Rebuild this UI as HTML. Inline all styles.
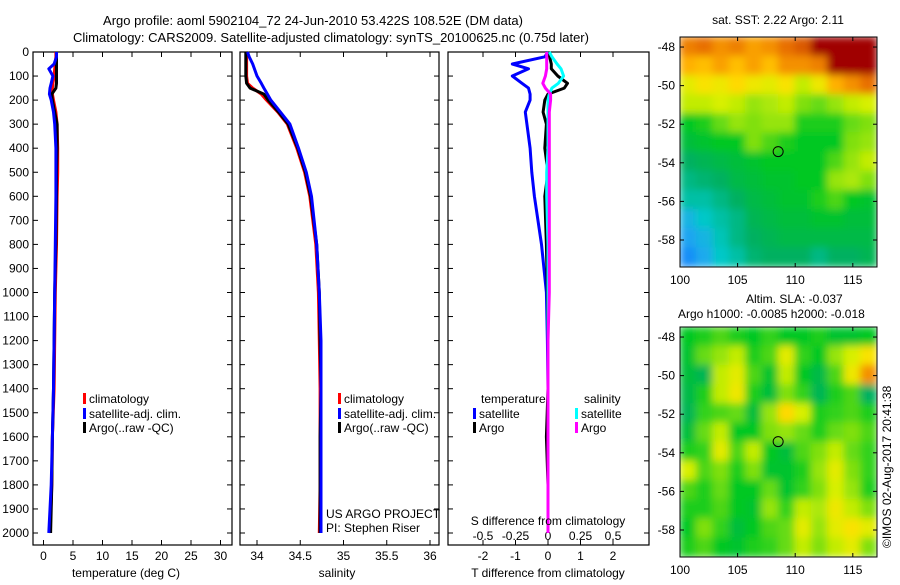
<!DOCTYPE html>
<html><head><meta charset="utf-8"><style>
body{margin:0;background:#fff;width:900px;height:580px;overflow:hidden;font-family:"Liberation Sans",sans-serif}
svg text{font-family:"Liberation Sans",sans-serif;fill:#000}
</style></head><body>
<svg id="fig" width="900" height="580" viewBox="0 0 900 580">
<defs>
<filter id="blur" x="0" y="0" width="1" height="1"><feGaussianBlur stdDeviation="4"/></filter>
<clipPath id="c1"><rect x="680" y="37" width="197" height="230"/></clipPath>
<clipPath id="c2"><rect x="680" y="327" width="197" height="230"/></clipPath>
</defs>
<text x="313" y="25" font-size="13" text-anchor="middle">Argo profile: aoml 5902104_72 24-Jun-2010 53.422S 108.52E (DM data)</text>
<text x="331" y="42" font-size="13" text-anchor="middle">Climatology: CARS2009. Satellite-adjusted climatology: synTS_20100625.nc (0.75d later)</text>
<g id="g"></g>
</svg>
<script>
const depths=[0,20,50,70,100,130,150,175,200,250,300,400,500,600,800,1000,1200,1400,1600,1800,2000];
const tempClim=[2.1,2.1,2.0,1.9,1.8,1.6,1.5,1.5,1.7,2.1,2.3,2.4,2.4,2.3,2.2,2.0,1.9,1.8,1.5,1.4,1.1];
const tempSat=[2.2,2.2,1.8,0.9,1.6,1.3,1.1,1.0,1.3,1.7,1.9,2.1,2.1,2.1,2.0,1.9,1.8,1.7,1.5,1.3,0.9];
const tempArgo=[2.2,2.2,2.2,2.2,2.2,2.2,2.1,1.4,1.5,1.9,2.3,2.3,2.2,2.2,2.1,1.9,1.8,1.7,1.5,1.4,1.2];
const salClim=[33.88,33.88,33.88,33.88,33.88,33.89,33.95,34.05,34.11,34.24,34.35,34.46,34.55,34.61,34.68,34.71,34.72,34.73,34.73,34.73,34.72];
const salSat=[33.89,33.91,33.95,33.97,34.0,34.05,34.08,34.12,34.16,34.27,34.38,34.48,34.57,34.63,34.69,34.72,34.74,34.74,34.74,34.74,34.74];
const salArgo=[33.87,33.87,33.87,33.87,33.87,33.88,33.92,34.08,34.13,34.25,34.36,34.47,34.56,34.62,34.69,34.72,34.73,34.74,34.73,34.73,34.73];
const diffTSat=[0.0,-0.1,-1.1,-0.6,-1.1,-0.8,-0.6,-0.55,-0.55,-0.7,-0.65,-0.55,-0.5,-0.42,-0.2,-0.05,-0.02,0,0,0,0];
const diffTArgo=[0.0,0.05,0.1,0.1,0.3,0.6,0.5,0.0,-0.1,-0.15,-0.05,-0.1,0.0,-0.1,-0.05,-0.02,0,0,-0.05,0,0];
const diffSSat=[0.01,0.03,0.07,0.10,0.12,0.08,0.03,0.01,0.0,0.0,0.0,0.0,-0.01,-0.01,0,0,0,0,0,0,0];
const diffSArgo=[-0.01,-0.01,-0.01,-0.01,-0.02,-0.04,-0.02,0.02,0.02,0.01,0.01,0.01,0.01,0.01,0.01,0.01,0,0,0,0,0];
const depthTicks=[0,100,200,300,400,500,600,700,800,900,1000,1100,1200,1300,1400,1500,1600,1700,1800,1900,2000];
const tempTicks=[0,5,10,15,20,25,30];
const salTicks=[34,34.5,35,35.5,36];
const salTickLabels=["34","34.5","35","35.5","36"];
const dTTicks=[-2,-1,0,1,2];
const dSTicks=[-0.5,-0.25,0,0.25,0.5];
const dSTickLabels=["-0.5","-0.25","0","0.25","0.5"];
const lonTicks=[100,105,110,115];
const latTicks=[-48,-50,-52,-54,-56,-58];
const sstGrid=[
[.88,.90,.86,.88,.84,.86,.90,.92,1,1,1,1],
[.82,.80,.84,.80,.84,.80,.86,.86,.88,1,1,1],
[.70,.74,.72,.76,.72,.70,.74,.66,.72,.82,.86,.90],
[.66,.66,.68,.66,.62,.64,.66,.60,.58,.62,.66,.68],
[.50,.52,.58,.62,.60,.62,.62,.52,.52,.52,.58,.60],
[.46,.48,.50,.50,.60,.56,.52,.50,.50,.50,.60,.62],
[.40,.42,.44,.46,.48,.50,.50,.50,.50,.56,.62,.66],
[.36,.38,.40,.44,.46,.48,.48,.50,.50,.62,.64,.60],
[.32,.32,.36,.40,.44,.46,.48,.48,.52,.56,.50,.48],
[.20,.28,.32,.36,.42,.44,.46,.46,.48,.48,.46,.46],
[.14,.20,.30,.36,.40,.42,.44,.44,.44,.44,.44,.44],
[.08,.16,.28,.32,.38,.40,.40,.40,.36,.40,.40,.42]];
const slaGrid=[
[.50,.52,.56,.52,.50,.54,.50,.50,.52,.48,.48,.50],
[.48,.58,.62,.66,.52,.56,.70,.54,.50,.62,.68,.74],
[.46,.42,.66,.70,.56,.48,.66,.50,.44,.56,.72,.86],
[.44,.52,.66,.72,.52,.46,.60,.54,.42,.52,.56,.40],
[.42,.54,.56,.58,.46,.62,.76,.68,.52,.54,.56,.52],
[.46,.58,.66,.50,.50,.60,.62,.58,.52,.58,.60,.56],
[.52,.54,.70,.56,.66,.50,.46,.56,.60,.66,.58,.54],
[.68,.56,.60,.52,.60,.48,.48,.52,.62,.70,.60,.54],
[.56,.52,.58,.50,.50,.58,.48,.54,.60,.68,.62,.52],
[.52,.52,.56,.50,.48,.62,.54,.66,.64,.72,.66,.60],
[.50,.60,.54,.46,.50,.56,.58,.70,.62,.70,.74,.70],
[.52,.56,.50,.48,.52,.54,.58,.66,.60,.66,.70,.60]];
const argoLon=108.52, argoLat=-53.42;

const NS="http://www.w3.org/2000/svg";
const G=document.getElementById('g');
function mk(tag,attrs,parent){const e=document.createElementNS(NS,tag);for(const k in attrs)e.setAttribute(k,attrs[k]);(parent||G).appendChild(e);return e;}
function txt(x,y,s,size,anchor,parent){const t=mk('text',{x:x,y:y,'font-size':size,'text-anchor':anchor||'start'},parent);t.textContent=s;return t;}
const yTop=52, yBot=545, pxPerM=0.2405;
const Y=d=>yTop+d*pxPerM;
const xT=v=>43.5+v*5.9;
const xS=v=>257+(v-34)*86.5;
const xDT=v=>548+v*32.5;
const xDS=v=>548+v*130;

function frame(x0,x1,name){
  const r=mk('rect',{x:x0,y:yTop,width:x1-x0,height:yBot-yTop,fill:'none',stroke:'#000','stroke-width':1.2});
  
  
  depthTicks.forEach(d=>{mk('line',{x1:x0,x2:x0+5,y1:Y(d),y2:Y(d),stroke:'#000'});mk('line',{x1:x1,x2:x1-5,y1:Y(d),y2:Y(d),stroke:'#000'});});
}
function xticks(fx,ticks,labels,y,x0,x1){
  ticks.forEach((t,i)=>{const x=fx(t);mk('line',{x1:x,x2:x,y1:yBot,y2:yBot-5,stroke:'#000'});mk('line',{x1:x,x2:x,y1:yTop,y2:yTop+5,stroke:'#000'});
    const l=txt(x,y,labels[i],12,'middle');
    
    });
}
function line(fx,vals,color,name,w){
  const p=vals.map((v,i)=>fx(v).toFixed(1)+','+Y(depths[i]).toFixed(1)).join(' ');
  const e=mk('polyline',{points:p,fill:'none',stroke:color,'stroke-width':w||3,'stroke-linejoin':'round'});
  
  
}
// panel 1
frame(33,232,'temperature-panel');
depthTicks.forEach(d=>{const l=txt(29,Y(d)+4,String(d),12,'end');
  
  });
xticks(xT,tempTicks,tempTicks.map(String),560,33,232);
line(xT,tempClim,'#f00','temp-climatology-line');
line(xT,tempArgo,'#000','temp-argo-line');
line(xT,tempSat,'#00f','temp-satellite-line');
let t=txt(126,577,'temperature (deg C)',12,'middle');
// panel 2
frame(240,439,'salinity-panel');
xticks(xS,salTicks,salTickLabels,560);
line(xS,salClim,'#f00','sal-climatology-line');
line(xS,salArgo,'#000','sal-argo-line');
line(xS,salSat,'#00f','sal-satellite-line');
t=txt(337,577,'salinity',12,'middle');
// panel 3
frame(448,649,'difference-panel');
xticks(xDT,dTTicks,dTTicks.map(String),560);
dSTicks.forEach((v,i)=>{const l=txt(xDS(v),540,dSTickLabels[i],12,'middle');
  
  });
line(xDT,diffTSat,'#00f','t-diff-satellite-line');
line(xDT,diffTArgo,'#000','t-diff-argo-line');
line(xDS,diffSSat,'#0ff','s-diff-satellite-line');
line(xDS,diffSArgo,'#f0f','s-diff-argo-line');
t=txt(548,577,'T difference from climatology',12,'middle');
t=txt(548,525,'S difference from climatology',12,'middle');
// legends
function leg(x,y,c,s,name){mk('rect',{x:x,y:y-10,width:3,height:11,fill:c});const l=txt(x+6,y,s,12);
  
  }
[[83,'temp'],[338,'sal']].forEach(([x,n])=>{
  leg(x,403,'#f00','climatology',n+'-legend-climatology');
  leg(x,418,'#00f','satellite-adj. clim.',n+'-legend-satellite');
  leg(x,432,'#000','Argo(..raw -QC)',n+'-legend-argo');});
t=txt(481,403,'temperature',12);
t=txt(584,403,'salinity',12);
leg(473,418,'#00f','satellite','legend-t-satellite');
leg(473,432,'#000','Argo','legend-t-argo');
leg(575,418,'#0ff','satellite','legend-s-satellite');
leg(575,432,'#f0f','Argo','legend-s-argo');
t=txt(326,518,'US ARGO PROJECT',12);
t=txt(326,532,'PI: Stephen Riser',12);

// maps
const stops=[[0,[16,112,255]],[.15,[32,168,240]],[.28,[0,200,200]],[.40,[0,176,96]],[.5,[0,200,32]],[.6,[128,224,16]],[.68,[216,240,0]],[.75,[255,224,0]],[.82,[255,176,0]],[.9,[232,112,0]],[1,[160,0,0]]];
function cmap(v){for(let i=1;i<stops.length;i++){if(v<=stops[i][0]){const a=stops[i-1],b=stops[i],f=(v-a[0])/(b[0]-a[0]);return 'rgb('+a[1].map((c,k)=>Math.round(c+(b[1][k]-c)*f)).join(',')+')';}}return 'rgb(160,0,0)';}
function map(top,grid,clip,name){
  const lon0=100,lon1=117.1,lat0=-47.48,lat1=-59.4,x0=680,w=197,h=230;
  const mx=lon=>x0+(lon-lon0)/(lon1-lon0)*w, my=lat=>top+(lat-lat0)/(lat1-lat0)*h;
  const g=mk('g',{'clip-path':'url(#'+clip+')'});
  const inner=mk('g',{filter:'url(#blur)'},g);
  const nr=grid.length,nc=grid[0].length,cw=w/nc,ch=h/nr;
  grid.forEach((row,r)=>row.forEach((v,c)=>{const e=mk('rect',{x:x0+c*cw-0.5,y:top+r*ch-0.5,width:cw+1,height:ch+1,fill:cmap(v)},inner);
    
    }));
  const fr=mk('rect',{x:x0,y:top,width:w,height:h,fill:'none',stroke:'#000'});
  
  
  lonTicks.forEach(l=>{const x=mx(l);mk('line',{x1:x,x2:x,y1:top+h,y2:top+h-4,stroke:'#000'});mk('line',{x1:x,x2:x,y1:top,y2:top+4,stroke:'#000'});
    const tl=txt(x,top+h+17,String(l),12,'middle');});
  latTicks.forEach(l=>{const y=my(l);mk('line',{x1:x0,x2:x0+4,y1:y,y2:y,stroke:'#000'});mk('line',{x1:x0+w,x2:x0+w-4,y1:y,y2:y,stroke:'#000'});
    const tl=txt(x0-5,y+4,String(l),12,'end');});
  const c=mk('circle',{cx:mx(argoLon),cy:my(argoLat),r:5,fill:'none',stroke:'#000','stroke-width':1});
  
  
}
map(37,sstGrid,'c1','sst-map');
map(327,slaGrid,'c2','sla-map');
t=txt(778,24,'sat. SST: 2.22  Argo: 2.11',12,'middle');
t=txt(746,303,'Altim. SLA: -0.037',12,'start');
t=txt(678,318,'Argo h1000: -0.0085 h2000: -0.018',12,'start');
t=txt(0,0,'©IMOS 02-Aug-2017 20:41:38',12,'start');t.setAttribute('transform','translate(891,548) rotate(-90)');

</script>
</body></html>
